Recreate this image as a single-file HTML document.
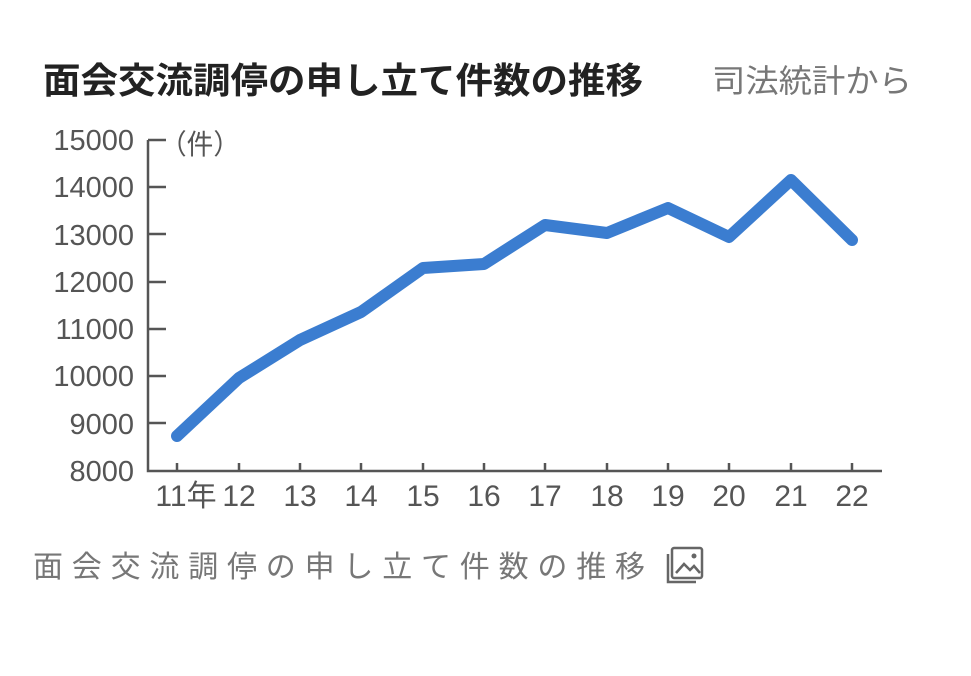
<!DOCTYPE html>
<html><head><meta charset="utf-8"><style>
body{margin:0;background:#fff;width:971px;height:671px;overflow:hidden}
svg text{font-family:"Liberation Sans","Noto Sans CJK JP",sans-serif}
</style></head><body>
<svg width="971" height="671" viewBox="0 0 971 671">
<text x="43" y="93" font-size="36" font-weight="bold" fill="#222" textLength="600" lengthAdjust="spacingAndGlyphs">面会交流調停の申し立て件数の推移</text>
<text x="712" y="92" font-size="32" fill="#777" textLength="200" lengthAdjust="spacingAndGlyphs">司法統計から</text>
<g fill="#555" font-size="29" text-anchor="end">
<text x="134" y="150">15000</text>
<text x="134" y="197">14000</text>
<text x="134" y="245">13000</text>
<text x="134" y="292">12000</text>
<text x="134" y="339">11000</text>
<text x="134" y="386">10000</text>
<text x="134" y="434">9000</text>
<text x="134" y="481">8000</text>
</g>
<text x="160" y="154" font-size="28" fill="#555" textLength="80" lengthAdjust="spacingAndGlyphs">（件）</text>
<g stroke="#555" stroke-width="2.5" fill="none">
<path d="M148 140 V471 H882"/>
<path d="M148 140h18M148 187h18M148 234h18M148 282h18M148 329h18M148 376h18M148 423h18"/>
<path d="M177 471v-8M239 471v-8M300 471v-8M361 471v-8M423 471v-8M484 471v-8M545 471v-8M607 471v-8M668 471v-8M729 471v-8M791 471v-8M852 471v-8"/>
</g>
<g fill="#555" font-size="30" text-anchor="middle">
<text x="186" y="506">11年</text>
<text x="239" y="506">12</text><text x="300" y="506">13</text><text x="361" y="506">14</text>
<text x="423" y="506">15</text><text x="484" y="506">16</text><text x="545" y="506">17</text>
<text x="607" y="506">18</text><text x="668" y="506">19</text><text x="729" y="506">20</text>
<text x="791" y="506">21</text><text x="852" y="506">22</text>
</g>
<polyline fill="none" stroke="#3b7dd0" stroke-width="12" stroke-linejoin="round" stroke-linecap="round"
points="177,436 239,378 300,340 361,312 423,268 484,264 545,225 607,233 668,208 729,237 791,180 852,240"/>
<text x="33" y="577" font-size="30" fill="#777" textLength="612" lengthAdjust="spacing">面会交流調停の申し立て件数の推移</text>
<g stroke="#666" stroke-width="2.5" fill="none">
<rect x="672" y="548" width="30" height="30" rx="2"/>
<path d="M668 554v28h28"/>
<path d="M676 573l8-9 6 6 4-4 6 7" />
</g>
<circle cx="694" cy="556" r="2.5" fill="#666"/>
</svg>
</body></html>
